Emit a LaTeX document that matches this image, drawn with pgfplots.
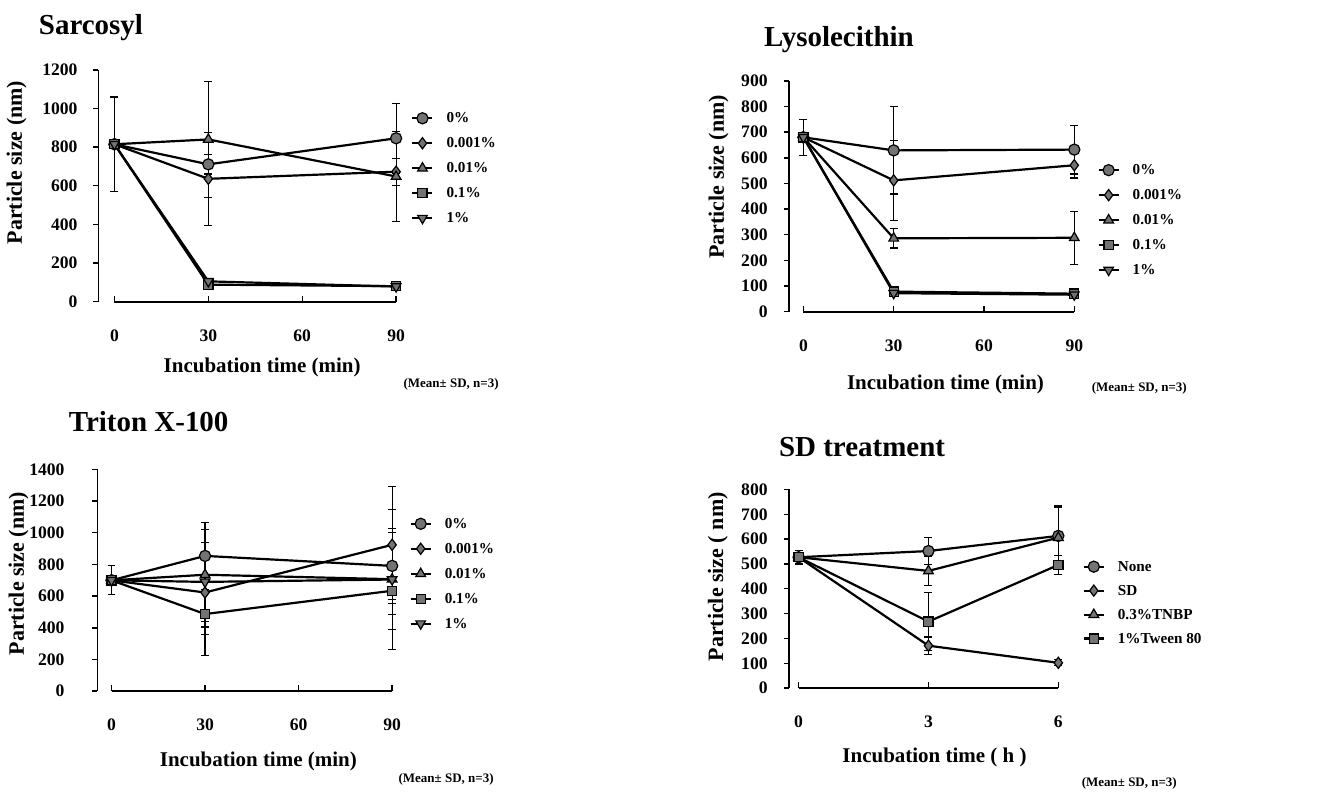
\documentclass[border=0pt]{standalone}
\usepackage{fontspec}
\setmainfont{Liberation Serif}
\usepackage{pgfplots}
\pgfplotsset{compat=1.18}

\pgfplotsset{
  panel/.style={
    scale only axis,
    anchor=south west,
    clip=false,
    axis y line=left,
    axis x line=bottom,
    x axis line style={draw=none},
    y axis line style={-,line width=0.9pt},
    major x tick style={draw=none},
    major y tick style={line width=0.7pt,black},
    tick align=outside,
    major tick length=2.5pt,
    enlargelimits=false,
    ymin=0,
    tick label style={font=\fontsize{8.8}{10}\selectfont\bfseries},
    /pgf/number format/assume math mode=true,
    /pgf/number format/1000 sep={},
    xticklabel style={yshift=-8pt},
    yticklabel style={xshift=-4.5pt},
    every axis x label/.style={anchor=center,font=\fontsize{10.5}{12}\selectfont\bfseries},
    every axis y label/.style={rotate=90,anchor=center,font=\fontsize{11}{12}\selectfont\bfseries},
    legend cell align=left,
    legend style={draw=none,fill=none,inner sep=0pt,anchor=north west,
      font=\fontsize{7.6}{9}\selectfont\bfseries,row sep=6pt,
      nodes={inner sep=0pt,text height=5.5pt,text depth=1pt},
      /tikz/every odd column/.append style={column sep=6.5pt}},
    legend image code/.code={\draw[mark repeat=2,mark phase=2,##1] plot coordinates {(0pt,0pt) (5pt,0pt) (10pt,0pt)};},
    every axis plot/.append style={line width=1.1pt,black,mark size=2.8pt,
      mark options={solid,fill=black!55,line width=0.6pt}},
  },
  eb/.style={error bars/.cd,y dir=both,y explicit,
    error bar style={line width=0.6pt},
    error mark options={line width=0.6pt,mark size=2pt,rotate=90}},
  mcirc/.style={mark=*},
  mdiam/.style={mark=diamond*},
  mtri/.style={mark=triangle*},
  msq/.style={mark=square*,mark size=2.3pt},
  minv/.style={mark=triangle*,mark options={solid,fill=black!55,line width=0.6pt,rotate=180}},
}
\tikzset{
  ttl/.style={anchor=base west,inner sep=0pt,font=\fontsize{14.5}{16}\selectfont\bfseries},
  note/.style={anchor=base east,inner sep=0pt,font=\fontsize{6.5}{8}\selectfont\bfseries},
}

\begin{document}
\begin{tikzpicture}
\path (0,0) rectangle (664.5pt,396.5pt);

% ---------- Sarcosyl ----------
\node[ttl] at (18.5pt,379pt) {Sarcosyl};
\begin{axis}[panel, at={(48.5pt,245.5pt)}, width=149pt, height=116pt,
    xmin=-5.1, xmax=90, ymax=1200, xtick={0,30,60,90}, ytick={0,200,...,1200},
    xlabel={Incubation time (min)}, ylabel={Particle size (nm)},
    xlabel style={at={(axis description cs:0.55,-0.284)}},
    ylabel style={at={(axis description cs:-0.275,0.60)}},
    legend style={at={(axis description cs:1.050,0.821)}}]
\addplot[mcirc,eb] coordinates {(0,815) +- (0,245) (30,711) +- (0,50) (90,846) +- (0,180)};
\addplot[mdiam,eb] coordinates {(0,815) +- (0,0) (30,636) +- (0,240) (90,673) +- (0,70)};
\addplot[mtri,eb] coordinates {(0,815) +- (0,0) (30,840) +- (0,300) (90,648) +- (0,235)};
\addplot[msq] coordinates {(0,815) (30,88) (90,80)};
\addplot[minv] coordinates {(0,815) (30,105) (90,78)};
\legend{0\%,0.001\%,0.01\%,0.1\%,1\%}
\draw[line width=0.9pt] (axis cs:0,0) -- (axis cs:90,0);
\draw[line width=0.7pt] (axis cs:0,0) -- ([yshift=3pt]axis cs:0,0);
\draw[line width=0.7pt] (axis cs:30,0) -- ([yshift=3pt]axis cs:30,0);
\draw[line width=0.7pt] (axis cs:60,0) -- ([yshift=3pt]axis cs:60,0);
\draw[line width=0.7pt] (axis cs:90,0) -- ([yshift=3pt]axis cs:90,0);
\end{axis}
\node[note] at (249pt,202.5pt) {(Mean± SD, n=3)};

% ---------- Lysolecithin ----------
\node[ttl] at (381.5pt,373pt) {Lysolecithin};
\begin{axis}[panel, at={(394pt,240.5pt)}, width=143pt, height=115.5pt,
    xmin=-4.9, xmax=90, ymax=900, xtick={0,30,60,90}, ytick={0,100,...,900},
    xlabel={Incubation time (min)}, ylabel={Particle size (nm)},
    xlabel style={at={(axis description cs:0.549,-0.316)}},
    ylabel style={at={(axis description cs:-0.245,0.584)}},
    legend style={at={(axis description cs:1.080,0.643)}}]
\addplot[mcirc,eb] coordinates {(0,680) +- (0,70) (30,629) +- (0,170) (90,632) +- (0,95)};
\addplot[mdiam,eb] coordinates {(0,680) +- (0,0) (30,512) +- (0,155) (90,571) +- (0,50)};
\addplot[mtri,eb] coordinates {(0,680) +- (0,0) (30,286) +- (0,38) (90,288) +- (0,103)};
\addplot[msq] coordinates {(0,680) (30,78) (90,70)};
\addplot[minv] coordinates {(0,680) (30,72) (90,66)};
\legend{0\%,0.001\%,0.01\%,0.1\%,1\%}
\draw[line width=0.9pt] (axis cs:0,0) -- (axis cs:90,0);
\draw[line width=0.7pt] (axis cs:0,0) -- ([yshift=3pt]axis cs:0,0);
\draw[line width=0.7pt] (axis cs:30,0) -- ([yshift=3pt]axis cs:30,0);
\draw[line width=0.7pt] (axis cs:60,0) -- ([yshift=3pt]axis cs:60,0);
\draw[line width=0.7pt] (axis cs:90,0) -- ([yshift=3pt]axis cs:90,0);
\end{axis}
\node[note] at (593.5pt,200.5pt) {(Mean± SD, n=3)};

% ---------- Triton X-100 ----------
\node[ttl] at (33.5pt,180.5pt) {Triton X-100};
\begin{axis}[panel, at={(48pt,50.5pt)}, width=147.5pt, height=111pt,
    xmin=-4.5, xmax=90, ymax=1400, xtick={0,30,60,90}, ytick={0,200,...,1400},
    yticklabel style={xshift=-6pt},
    xlabel={Incubation time (min)}, ylabel={Particle size (nm)},
    xlabel style={at={(axis description cs:0.546,-0.315)}},
    ylabel style={at={(axis description cs:-0.268,0.53)}},
    legend style={at={(axis description cs:1.058,0.786)}}]
\addplot[mcirc,eb] coordinates {(0,700) +- (0,92) (30,854) +- (0,210) (90,791) +- (0,210)};
\addplot[mdiam,eb] coordinates {(0,700) +- (0,0) (30,623) +- (0,400) (90,924) +- (0,370)};
\addplot[mtri,eb] coordinates {(0,700) +- (0,0) (30,735) +- (0,330) (90,707) +- (0,320)};
\addplot[msq,eb] coordinates {(0,700) +- (0,0) (30,487) +- (0,130) (90,634) +- (0,150)};
\addplot[minv,eb] coordinates {(0,700) +- (0,0) (30,690) +- (0,250) (90,705) +- (0,440)};
\legend{0\%,0.001\%,0.01\%,0.1\%,1\%}
\draw[line width=0.9pt] (axis cs:0,0) -- (axis cs:90,0);
\draw[line width=0.7pt] (axis cs:0,0) -- ([yshift=3pt]axis cs:0,0);
\draw[line width=0.7pt] (axis cs:30,0) -- ([yshift=3pt]axis cs:30,0);
\draw[line width=0.7pt] (axis cs:60,0) -- ([yshift=3pt]axis cs:60,0);
\draw[line width=0.7pt] (axis cs:90,0) -- ([yshift=3pt]axis cs:90,0);
\end{axis}
\node[note] at (246.5pt,5pt) {(Mean± SD, n=3)};

% ---------- SD treatment ----------
\node[ttl] at (389pt,168pt) {SD treatment};
\begin{axis}[panel, at={(394pt,52pt)}, width=135pt, height=99.5pt,
    xmin=-0.23, xmax=6, ymax=800, xtick={0,3,6}, ytick={0,100,...,800},
    xlabel={Incubation time ( h )}, ylabel={Particle size ( nm)},
    xlabel style={at={(axis description cs:0.541,-0.347)}},
    ylabel style={at={(axis description cs:-0.263,0.56)}},
    legend style={at={(axis description cs:1.089,0.646)},row sep=5.5pt}]
\addplot[mcirc,eb] coordinates {(0,527) +- (0,27) (3,552) +- (0,55) (6,613) +- (0,120)};
\addplot[mdiam,eb] coordinates {(0,527) +- (0,0) (3,171) +- (0,35) (6,102) +- (0,12)};
\addplot[mtri,eb] coordinates {(0,527) +- (0,0) (3,472) +- (0,58) (6,606) +- (0,120)};
\addplot[msq,eb] coordinates {(0,527) +- (0,0) (3,268) +- (0,117) (6,496) +- (0,38)};
\legend{None,SD,0.3\%TNBP,1\%Tween 80}
\draw[line width=0.9pt] (axis cs:0,0) -- (axis cs:6,0);
\draw[line width=0.7pt] (axis cs:0,0) -- ([yshift=3pt]axis cs:0,0);
\draw[line width=0.7pt] (axis cs:3,0) -- ([yshift=3pt]axis cs:3,0);
\draw[line width=0.7pt] (axis cs:6,0) -- ([yshift=3pt]axis cs:6,0);
\end{axis}
\node[note] at (588.5pt,3pt) {(Mean± SD, n=3)};
\end{tikzpicture}
\end{document}
